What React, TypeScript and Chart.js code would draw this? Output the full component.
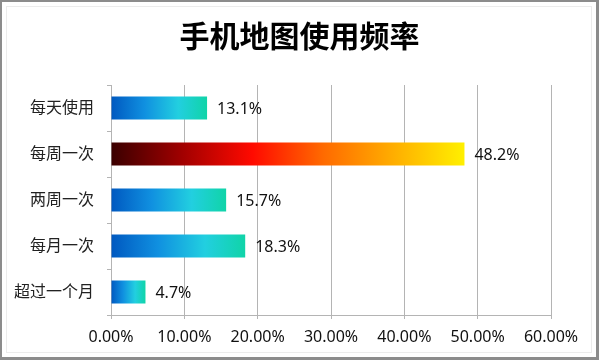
import React, { useEffect, useRef } from "react";
import { Chart, registerables } from "chart.js";

Chart.register(...registerables);

const titleText = "手机地图使用频率";
const categories = ["每天使用", "每周一次", "两周一次", "每月一次", "超过一个月"];
const values = [13.1, 48.2, 15.7, 18.3, 4.7];
const labelsText = ["13.1%", "48.2%", "15.7%", "18.3%", "4.7%"];
const xTicks = [0, 10, 20, 30, 40, 50, 60];
const highlightIndex = 1;

const FONT = '"Noto Sans", "Noto Sans CJK SC", sans-serif';

export default function App() {
  const ref = useRef<HTMLCanvasElement | null>(null);

  useEffect(() => {
    document.body.style.margin = "0";
    const canvas = ref.current;
    if (!canvas) return;

    const frame = {
      id: "frame",
      beforeDraw(chart: any) {
        const c = chart.ctx;
        c.save();
        c.fillStyle = "#8c8c8c";
        c.fillRect(0, 0, chart.width, chart.height);
        c.fillStyle = "#ffffff";
        c.fillRect(2, 2, chart.width - 5, chart.height - 5);
        c.strokeStyle = "#ececec";
        c.lineWidth = 1;
        c.strokeRect(6.5, 6.5, chart.width - 14, chart.height - 14);
        c.font = `bold 30px ${FONT}`;
        c.fillStyle = "#000000";
        c.textAlign = "center";
        c.textBaseline = "middle";
        c.fillText(titleText, chart.width / 2, 38);
        c.restore();
      },
    };

    const valueLabels = {
      id: "valueLabels",
      afterDatasetsDraw(chart: any) {
        const c = chart.ctx;
        const meta = chart.getDatasetMeta(0);
        c.save();
        c.font = `16px ${FONT}`;
        c.fillStyle = "#111111";
        c.textAlign = "left";
        c.textBaseline = "middle";
        meta.data.forEach((el: any, i: number) => {
          c.fillText(labelsText[i], el.x + 10, el.y + 1);
        });
        c.restore();
      },
    };

    const bg = (ctx: any) => {
      const chart = ctx.chart;
      const xs = chart.scales && chart.scales.x;
      if (!chart.chartArea || !xs) return "#1090d8";
      const i = ctx.dataIndex;
      const x0 = xs.getPixelForValue(0);
      const x1 = xs.getPixelForValue(values[i]);
      const g = chart.ctx.createLinearGradient(x0, 0, x1, 0);
      if (i === highlightIndex) {
        g.addColorStop(0, "#3a0000");
        g.addColorStop(0.2, "#a00000");
        g.addColorStop(0.4, "#ff0a00");
        g.addColorStop(0.6, "#ff6a00");
        g.addColorStop(0.8, "#ffae00");
        g.addColorStop(1, "#fff000");
      } else {
        g.addColorStop(0, "#0058c0");
        g.addColorStop(0.35, "#1090e0");
        g.addColorStop(0.7, "#22cfe0");
        g.addColorStop(1, "#10d4a8");
      }
      return g;
    };

    const chart = new Chart(canvas, {
      type: "bar",
      data: {
        labels: categories,
        datasets: [
          {
            data: values,
            backgroundColor: bg,
            borderWidth: 0,
            categoryPercentage: 1,
            barPercentage: 0.5,
          },
        ],
      },
      options: {
        indexAxis: "y",
        responsive: false,
        animation: false,
        layout: { padding: { left: 0, right: 48, top: 85, bottom: 0 } },
        plugins: {
          legend: { display: false },
          tooltip: { enabled: false },
          title: { display: false },
        },
        scales: {
          x: {
            min: xTicks[0],
            max: xTicks[xTicks.length - 1],
            afterBuildTicks: (scale: any) => {
              scale.ticks = xTicks.map((v) => ({ value: v }));
            },
            afterFit: (scale: any) => {
              scale.height = 45;
            },
            ticks: {
              callback: (v: any) => Number(v).toFixed(2) + "%",
              font: { family: FONT, size: 16 },
              color: "#111111",
              padding: 9,
              maxRotation: 0,
            },
            grid: { color: "#b4b4b4", lineWidth: 1, tickLength: 4 },
            border: { color: "#b4b4b4" },
          },
          y: {
            afterFit: (scale: any) => {
              scale.width = 111;
            },
            ticks: {
              font: { family: FONT, size: 16 },
              color: "#222222",
              padding: 13,
            },
            grid: {
              drawOnChartArea: false,
              color: "#b4b4b4",
              tickLength: 4,
              offset: true,
            },
            border: { color: "#b4b4b4" },
          },
        },
      },
      plugins: [frame, valueLabels],
    } as any);

    return () => chart.destroy();
  }, []);

  return (
    <div style={{ width: 599, height: 360 }}>
      <canvas ref={ref} width={599} height={360} />
    </div>
  );
}
